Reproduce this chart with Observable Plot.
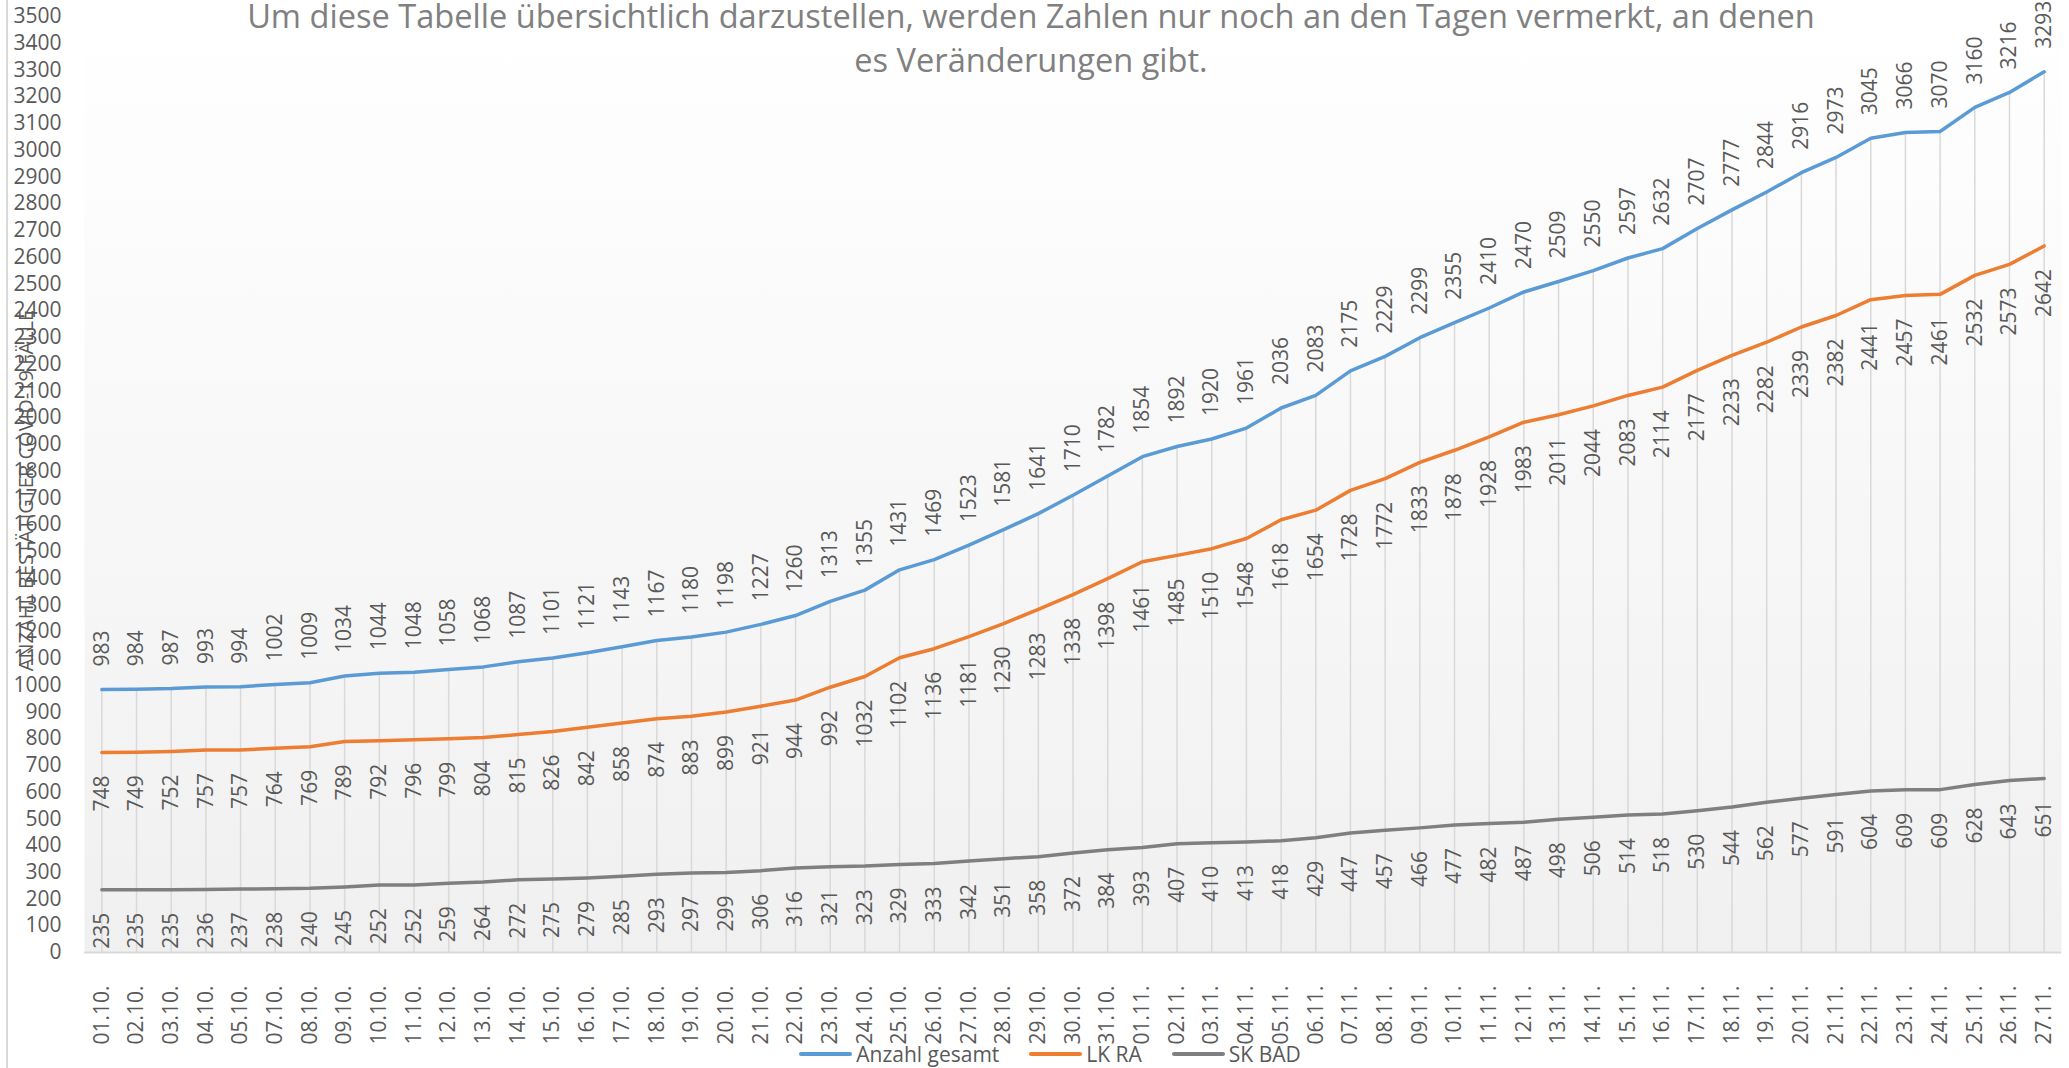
<!DOCTYPE html>
<html>
<head>
<meta charset="utf-8">
<script src="https://cdn.jsdelivr.net/npm/d3@7"></script>
<script src="https://cdn.jsdelivr.net/npm/@observablehq/plot@0.6"></script>
<style>
  html, body { margin: 0; padding: 0; background: #ffffff; overflow: hidden; }
  #wrap { position: relative; width: 2069px; height: 1068px; font-family: "Open Sans", sans-serif; }
  #border { position: absolute; left: 6px; top: 0; width: 2px; height: 1068px; background: #d9d9d9; }
  #title { position: absolute; left: 0; top: -6px; width: 2062px; text-align: center; font-size: 32.6px; line-height: 44px; color: #808080; pointer-events: none; }
  #legend { position: absolute; left: 0; width: 2100px; top: 1040px; display: flex; justify-content: center; align-items: center; font-size: 21px; color: #595959; }
  .item { display: flex; align-items: center; margin: 0 15px; }
  .sw { width: 53px; height: 4px; border-radius: 2px; margin-right: 4px; }
</style>
</head>
<body>
<div id="wrap">
  <div id="chart"></div>
  <div id="border"></div>
  <div id="title"></div>
  <div id="legend"></div>
</div>
<script>
const dates = ["01.10.","02.10.","03.10.","04.10.","05.10.","07.10.","08.10.","09.10.","10.10.","11.10.","12.10.","13.10.","14.10.","15.10.","16.10.","17.10.","18.10.","19.10.","20.10.","21.10.","22.10.","23.10.","24.10.","25.10.","26.10.","27.10.","28.10.","29.10.","30.10.","31.10.","01.11.","02.11.","03.11.","04.11.","05.11.","06.11.","07.11.","08.11.","09.11.","10.11.","11.11.","12.11.","13.11.","14.11.","15.11.","16.11.","17.11.","18.11.","19.11.","20.11.","21.11.","22.11.","23.11.","24.11.","25.11.","26.11.","27.11."];
const anzahlGesamt = [983,984,987,993,994,1002,1009,1034,1044,1048,1058,1068,1087,1101,1121,1143,1167,1180,1198,1227,1260,1313,1355,1431,1469,1523,1581,1641,1710,1782,1854,1892,1920,1961,2036,2083,2175,2229,2299,2355,2410,2470,2509,2550,2597,2632,2707,2777,2844,2916,2973,3045,3066,3070,3160,3216,3293];
const lkRA = [748,749,752,757,757,764,769,789,792,796,799,804,815,826,842,858,874,883,899,921,944,992,1032,1102,1136,1181,1230,1283,1338,1398,1461,1485,1510,1548,1618,1654,1728,1772,1833,1878,1928,1983,2011,2044,2083,2114,2177,2233,2282,2339,2382,2441,2457,2461,2532,2573,2642];
const skBAD = [235,235,235,236,237,238,240,245,252,252,259,264,272,275,279,285,293,297,299,306,316,321,323,329,333,342,351,358,372,384,393,407,410,413,418,429,447,457,466,477,482,487,498,506,514,518,530,544,562,577,591,604,609,609,628,643,651];
const seriesNames = ["Anzahl gesamt", "LK RA", "SK BAD"];
const seriesColors = ["#5b9bd5", "#ed7d31", "#7f7f7f"];
const yTicks = d3.range(0, 3501, 100);
const titleLines = ["Um diese Tabelle übersichtlich darzustellen, werden Zahlen nur noch an den Tagen vermerkt, an denen", "es Veränderungen gibt."];
const yLabel = "ANZAHL BESTÄTIGTER COVID-19 FÄLLE";

const seriesValues = [anzahlGesamt, lkRA, skBAD];
const rows = seriesNames.map((name, s) => dates.map((d, i) => ({date: d, value: seriesValues[s][i], series: name})));
const [blue, orange, grey] = rows;

const labelStyle = {fill: "#595959", fontSize: 21, fontFamily: "Open Sans", rotate: -90};

const chart = Plot.plot({
  width: 2069,
  height: 1068,
  marginLeft: 84,
  marginRight: 8,
  marginTop: 16,
  marginBottom: 116,
  style: {fontFamily: "Open Sans", fontSize: "21px", color: "#595959", background: "transparent", overflow: "visible"},
  x: {type: "point", domain: dates, padding: 0.5, tickRotate: -90, tickSize: 0, tickPadding: 33, label: null},
  y: {domain: [0, 3500], ticks: yTicks, tickFormat: d3.format("d"), tickSize: 0, tickPadding: 23, label: null},
  color: {domain: seriesNames, range: seriesColors},
  marks: [
    Plot.frame({fill: "url(#bgGrad)", stroke: "none"}),
    Plot.ruleX(blue, {x: "date", y1: 0, y2: "value", stroke: "#d9d9d9", strokeWidth: 1.5}),
    Plot.ruleY([0], {stroke: "#d9d9d9", strokeWidth: 2}),
    Plot.line(rows.flat(), {x: "date", y: "value", z: "series", stroke: "series", strokeWidth: 3.5, strokeLinecap: "round", strokeLinejoin: "round"}),
    Plot.text(blue, {x: "date", y: "value", text: d => String(d.value), textAnchor: "start", dy: -23, ...labelStyle}),
    Plot.text(orange, {x: "date", y: "value", text: d => String(d.value), textAnchor: "end", dy: 23, ...labelStyle}),
    Plot.text(grey, {x: "date", y: "value", text: d => String(d.value), textAnchor: "end", dy: 23, ...labelStyle}),
    Plot.text([yLabel], {frameAnchor: "left", textAnchor: "middle", text: d => d, dx: -58, dy: 6, rotate: -90, fill: "#595959", fontSize: 20, fontFamily: "Open Sans"})
  ]
});

d3.select(chart).insert("defs", ":first-child").html(
  '<linearGradient id="bgGrad" x1="0" y1="0" x2="0" y2="1">' +
  '<stop offset="0" stop-color="#ffffff"/><stop offset="1" stop-color="#f0f0f0"/></linearGradient>'
);
document.getElementById("chart").appendChild(chart);

document.getElementById("title").innerHTML = titleLines.map(t => `<div>${t}</div>`).join("");

const legend = document.getElementById("legend");
seriesNames.forEach((n, i) => {
  const it = document.createElement("div");
  it.className = "item";
  it.innerHTML = `<span class="sw" style="background:${seriesColors[i]}"></span><span>${n}</span>`;
  legend.appendChild(it);
});
</script>
</body>
</html>
